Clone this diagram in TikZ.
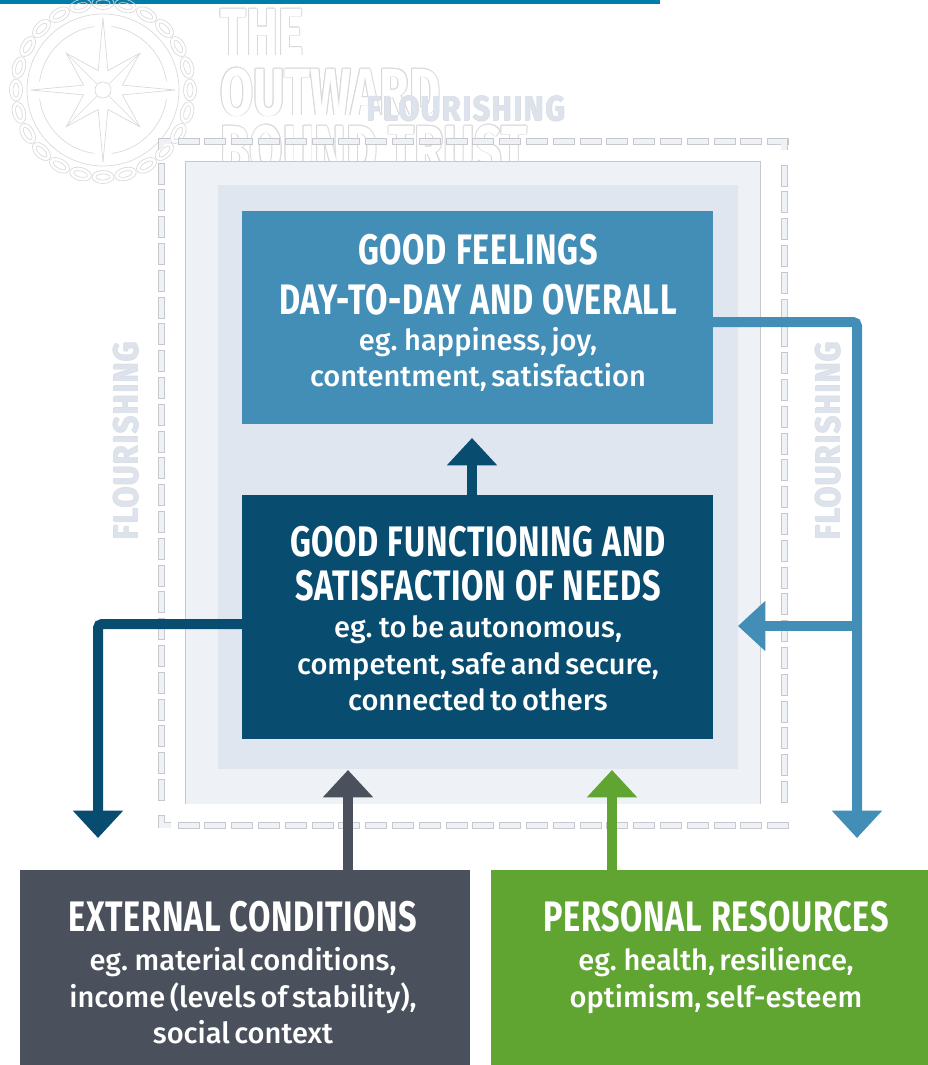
\documentclass[tikz,border=0pt]{standalone}
\usepackage{fontspec}
\setmainfont{Fira Sans}[BoldFont={Fira Sans Bold}]
\newfontfamily\headfont{Fira Sans Bold}[FakeStretch=0.76,LetterSpace=1.5]
\newfontfamily\logofont{Fira Sans Bold}[FakeStretch=0.72]
\newfontfamily\flowfont{Fira Sans Bold}[FakeStretch=0.88,LetterSpace=4]
\newfontfamily\bodyfont{Fira Sans Medium}
\usetikzlibrary{arrows.meta,calc}
\definecolor{barblue}{HTML}{007EA9}
\definecolor{midblue}{HTML}{438EB6}
\definecolor{navy}{HTML}{084C70}
\definecolor{slategrey}{HTML}{4B515C}
\definecolor{leaf}{HTML}{60A532}
\definecolor{palefill}{HTML}{EEF1F6}
\definecolor{softfill}{HTML}{DFE6EF}
\definecolor{edgegrey}{HTML}{C6C8CE}
\definecolor{logoline}{HTML}{D9D9D9}
\definecolor{flourish}{HTML}{DCE3ED}
\tikzset{
  x=0.75pt,y=-0.75pt,
  mainbox/.style={inner sep=0pt,outer sep=0pt,text=white},
  boxtext/.style={inner sep=0pt,outer sep=0pt,text=white,text width=345pt,align=center},
  dashbox/.style={fill=palefill,draw=edgegrey,line width=0.6pt},
  conn/.style={line width=7.5pt,rounded corners=3pt,-{Triangle[length=20.5pt,width=36.5pt,sep=0pt]}},
  logoglyph/.style={inner sep=0pt,anchor=base west,font=\logofont\fontsize{50}{50}\selectfont},
  ringline/.style={draw=logoline,line width=0.5pt},
  flowtxt/.style={inner sep=0pt,text=flourish,font=\flowfont\fontsize{26}{26}\selectfont},
}
% heading: leading, gap after, text
\newcommand{\headtxt}[3]{\headfont\fontsize{32}{#1}\selectfont #3\par\vspace{#2}}
\newcommand{\bodytxt}[1]{\bodyfont\fontsize{21.8}{27.2}\selectfont #1\par}
\newcommand{\hsp}{\hspace{3.5pt} }
\newcommand{\logoword}[3]{%
  \foreach \a in {0,45,...,315}{\node[logoglyph,text=logoline] at ([shift={(\a:0.9)}]#1,#2) {#3};}
  \node[logoglyph,text=white] at (#1,#2) {#3};}
\newcommand{\flowword}[4]{%
  \foreach \a in {0,90,180,270}{\node[flowtxt,text=edgegrey!60,rotate=#3] at ([shift={(\a:0.5)}]#1,#2) {#4};}
  \node[flowtxt,rotate=#3] at (#1,#2) {#4};}
\begin{document}
\begin{tikzpicture}
\useasboundingbox (0,0) rectangle (928,1065);
\fill[barblue] (0,0) rectangle (660,4);
% logo emblem
\foreach \q in {0,...,23}{
  \pgfmathsetmacro{\ang}{15*\q}
  \pgfmathsetmacro{\ex}{103+87*cos(\ang)}
  \pgfmathsetmacro{\ey}{90+87*sin(\ang)}
  \pgfmathsetmacro{\tilt}{90-\ang}
  \draw[ringline,shift={(\ex,\ey)},rotate=\tilt] (0,0) circle [x radius=11,y radius=6.5];
  \draw[ringline,shift={(\ex,\ey)},rotate=\tilt] (0,0) circle [x radius=7,y radius=3];
}
\draw[ringline] (103,90) circle (76);
\draw[ringline] (103,90) circle (64);
\foreach \a in {0,90,180,270}{
  \draw[ringline,fill=white] ($(103,90)+(\a:72)$) -- ($(103,90)+(\a+14:20)$) -- ($(103,90)+(\a+45:52)$) -- ($(103,90)+(\a+76:20)$) -- ($(103,90)+(\a+90:72)$);
  \draw[ringline] ($(103,90)+(\a+45:52)$) -- ($(103,90)+(\a+45:8)$);
}
\draw[ringline,fill=white] (103,90) circle (8);
\logoword{220}{55}{THE}
\logoword{220}{115}{OUTWARD}
\logoword{220}{172}{BOUND TRUST}
% dashed frame
\foreach \k in {0,...,22}{
  \draw[dashbox] ({178+26.8*\k},138) rectangle ({199+26.8*\k},144);
  \draw[dashbox] ({178+26.8*\k},822) rectangle ({199+26.8*\k},828);
}
\foreach \k in {0,...,23}{
  \draw[dashbox] (158,{163+26.8*\k}) rectangle (164,{184+26.8*\k});
  \draw[dashbox] (781,{165+26.8*\k}) rectangle (787,{186+26.8*\k});
}
\fill[palefill] (158,138) -- (170,138) -- (170,144) -- (164,144) -- (164,150) -- (158,150) -- cycle;
\draw[edgegrey,line width=0.6pt] (158,150) -- (158,138) -- (170,138);
\fill[palefill] (775,138) -- (787,138) -- (787,150) -- (781,150) -- (781,144) -- (775,144) -- cycle;
\draw[edgegrey,line width=0.6pt] (775,138) -- (787,138) -- (787,150);
\fill[palefill] (158,815) -- (164,815) -- (164,822) -- (171,822) -- (171,828) -- (158,828) -- cycle;
\draw[edgegrey,line width=0.6pt] (158,828) -- (158,815) (158,815) -- (164,815) -- (164,822) -- (171,822);
% nested panels
\fill[palefill] (185,161) rectangle (760,804);
\draw[edgegrey,line width=0.6pt] (185,804) -- (185,161) -- (760,161) -- (760,804);
\fill[softfill] (218,185) rectangle (738,769);
\flowword{466}{108.5}{0}{FLOURISHING}
\flowword{126}{441}{90}{FLOURISHING}
\flowword{828}{441}{90}{FLOURISHING}
% boxes
\node[mainbox,fill=midblue,minimum width=353.25pt,minimum height=159.75pt] (feel) at (477.5,317.5) {};
\node[mainbox,fill=navy,minimum width=353.25pt,minimum height=183pt] (func) at (477.5,617) {};
\node[mainbox,fill=slategrey,minimum width=337.5pt,minimum height=146.25pt] (ext) at (245,967.5) {};
\node[mainbox,fill=leaf,minimum width=327.75pt,minimum height=146.25pt] (pers) at (709.5,967.5) {};
% labels
\node[boxtext] (feeltxt) at (478,313) {\headtxt{37}{0pt}{GOOD\hsp FEELINGS\\DAY-TO-DAY\hsp AND\hsp OVERALL}\bodytxt{eg. happiness, joy,\\contentment, satisfaction}};
\node[boxtext] (functxt) at (478,618.5) {\headtxt{33}{0.7pt}{GOOD\hsp FUNCTIONING\hsp AND\\SATISFACTION\hsp OF\hsp NEEDS}\bodytxt{eg. to be autonomous,\\competent, safe and secure,\\connected to others}};
\node[boxtext] (exttxt) at (243,972.5) {\headtxt{36}{2.2pt}{EXTERNAL\hsp CONDITIONS}\bodytxt{eg. material conditions,\\income (levels of stability),\\social context}};
\node[boxtext] (perstxt) at (716,957.5) {\headtxt{36}{2.2pt}{PERSONAL\hsp RESOURCES}\bodytxt{eg. health, resilience,\\optimism, self-esteem}};
% connector coordinates
\coordinate (feelout) at (713,322);
\coordinate (rightcorner) at (857,322);
\coordinate (rightend) at (857,838);
\coordinate (branch) at (857,626);
\coordinate (branchend) at (738,626);
\coordinate (funcout) at (242,624);
\coordinate (leftcorner) at (98,624);
\coordinate (leftend) at (98,838);
\coordinate (funcup) at (472,495);
\coordinate (feelin) at (472,438);
\coordinate (extup) at (348,870);
\coordinate (extend) at (348,770);
\coordinate (persup) at (612,870);
\coordinate (persend) at (612,770);
% connectors
\draw[conn,draw=navy] (funcup) -- (feelin);
\draw[conn,draw=midblue] (feelout) -- (rightcorner) -- (rightend);
\draw[conn,draw=midblue] (branch) -- (branchend);
\draw[conn,draw=navy] (funcout) -- (leftcorner) -- (leftend);
\draw[conn,draw=slategrey] (extup) -- (extend);
\draw[conn,draw=leaf] (persup) -- (persend);
\end{tikzpicture}
\end{document}
